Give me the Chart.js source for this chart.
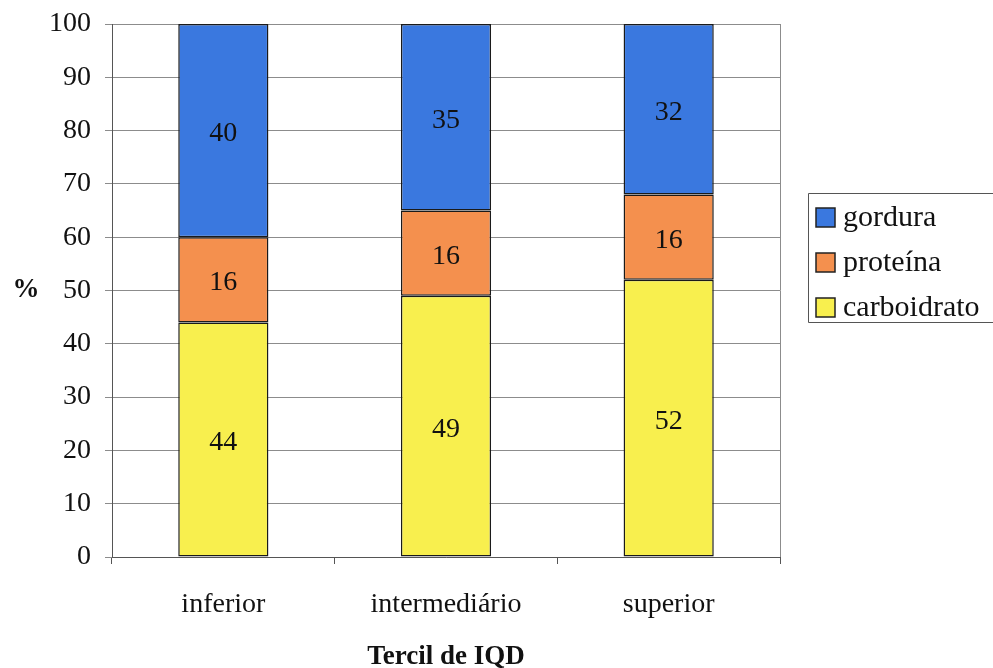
<!DOCTYPE html>
<html>
<head>
<meta charset="utf-8">
<script src="https://cdn.jsdelivr.net/npm/chart.js@4/dist/chart.umd.min.js"></script>
<style>
  html, body { margin: 0; padding: 0; background: #ffffff; }
  #wrap { width: 993px; height: 668px; position: relative; }
</style>
</head>
<body>
<div id="wrap"><canvas id="chart" width="993" height="668"></canvas></div>
<script>
// Tercis do IQD e composição percentual da energia
const categories = ['inferior', 'intermediário', 'superior'];
const carboidrato = [44, 49, 52];
const proteina = [16, 16, 16];
const gordura = [40, 35, 32];

const SERIF = '"Liberation Serif", "Times New Roman", serif';

// Values written in the middle of each stacked segment
const segmentLabels = {
  id: 'segmentLabels',
  afterDatasetsDraw(chart) {
    const ctx = chart.ctx;
    ctx.save();
    ctx.font = '28px ' + SERIF;
    ctx.fillStyle = '#111';
    ctx.textAlign = 'center';
    ctx.textBaseline = 'middle';
    chart.data.datasets.forEach((ds, i) => {
      chart.getDatasetMeta(i).data.forEach((bar, j) => {
        const p = bar.getProps(['x', 'y', 'base'], true);
        ctx.fillText(String(ds.data[j]), p.x, (p.y + p.base) / 2 + 3);
      });
    });
    ctx.restore();
  }
};

// Right edge of the plot area, the "%" label and the boxed legend
const frameAndLegend = {
  id: 'frameAndLegend',
  beforeDatasetsDraw(chart) {
    const {ctx, chartArea: a} = chart;
    ctx.save();
    ctx.strokeStyle = '#8c8c8c';
    ctx.lineWidth = 1;
    ctx.beginPath();
    ctx.moveTo(Math.round(a.right) + 0.5, a.top);
    ctx.lineTo(Math.round(a.right) + 0.5, a.bottom);
    ctx.stroke();
    ctx.restore();
  },
  afterDraw(chart) {
    const {ctx, chartArea: a} = chart;
    ctx.save();
    // y axis title, horizontal
    ctx.font = 'bold 27px ' + SERIF;
    ctx.fillStyle = '#111';
    ctx.textAlign = 'center';
    ctx.textBaseline = 'middle';
    ctx.fillText('%', 26, (a.top + a.bottom) / 2);

    // legend
    const boxL = 808, boxT = 193, boxB = 322;
    ctx.strokeStyle = '#555';
    ctx.lineWidth = 1;
    ctx.beginPath();
    ctx.moveTo(1000, boxT + 0.5);
    ctx.lineTo(boxL + 0.5, boxT + 0.5);
    ctx.lineTo(boxL + 0.5, boxB + 0.5);
    ctx.lineTo(1000, boxB + 0.5);
    ctx.stroke();

    const items = chart.data.datasets.slice().reverse();
    ctx.font = '30px ' + SERIF;
    ctx.textAlign = 'left';
    items.forEach((ds, k) => {
      const cy = 217 + k * 45;
      ctx.fillStyle = ds.backgroundColor;
      ctx.fillRect(816, cy - 9, 19, 19);
      ctx.strokeStyle = '#222';
      ctx.lineWidth = 1.5;
      ctx.strokeRect(816, cy - 9, 19, 19);
      ctx.fillStyle = '#111';
      ctx.fillText(ds.label, 843, cy + 1);
    });
    ctx.restore();
  }
};

const barStyle = {
  borderColor: '#1a1a1a',
  borderWidth: 1.5,
  borderSkipped: false,
  barPercentage: 0.405,
  categoryPercentage: 1.0
};

new Chart(document.getElementById('chart'), {
  type: 'bar',
  data: {
    labels: categories,
    datasets: [
      Object.assign({label: 'carboidrato', data: carboidrato, backgroundColor: '#f8ef4e'}, barStyle),
      Object.assign({label: 'proteína', data: proteina, backgroundColor: '#f4904e'}, barStyle),
      Object.assign({label: 'gordura', data: gordura, backgroundColor: '#3a78df'}, barStyle)
    ]
  },
  options: {
    responsive: false,
    animation: false,
    layout: { padding: { left: 0, right: 213, top: 24, bottom: 0 } },
    plugins: { legend: { display: false }, tooltip: { enabled: false } },
    scales: {
      x: {
        stacked: true,
        afterFit(s) { s.height = 111; s.paddingLeft = 0; s.paddingRight = 0; },
        border: { color: '#555', width: 1 },
        grid: { drawOnChartArea: false, drawTicks: true, tickLength: 7, color: '#555', offset: true },
        ticks: { color: '#111', font: { family: SERIF, size: 28 }, padding: 24 },
        title: {
          display: true, text: 'Tercil de IQD', color: '#111',
          font: { family: SERIF, size: 27, weight: 'bold', lineHeight: 0.8 },
          padding: { top: 0, bottom: 0 }
        }
      },
      y: {
        stacked: true,
        min: 0, max: 100,
        afterFit(s) { s.width = 112; s.paddingTop = 0; s.paddingBottom = 0; },
        border: { color: '#555', width: 1 },
        grid: { color: '#8c8c8c', tickLength: 7, drawTicks: true },
        ticks: { stepSize: 10, color: '#111', font: { family: SERIF, size: 28 }, padding: 14 }
      }
    }
  },
  plugins: [segmentLabels, frameAndLegend]
});
</script>
</body>
</html>
